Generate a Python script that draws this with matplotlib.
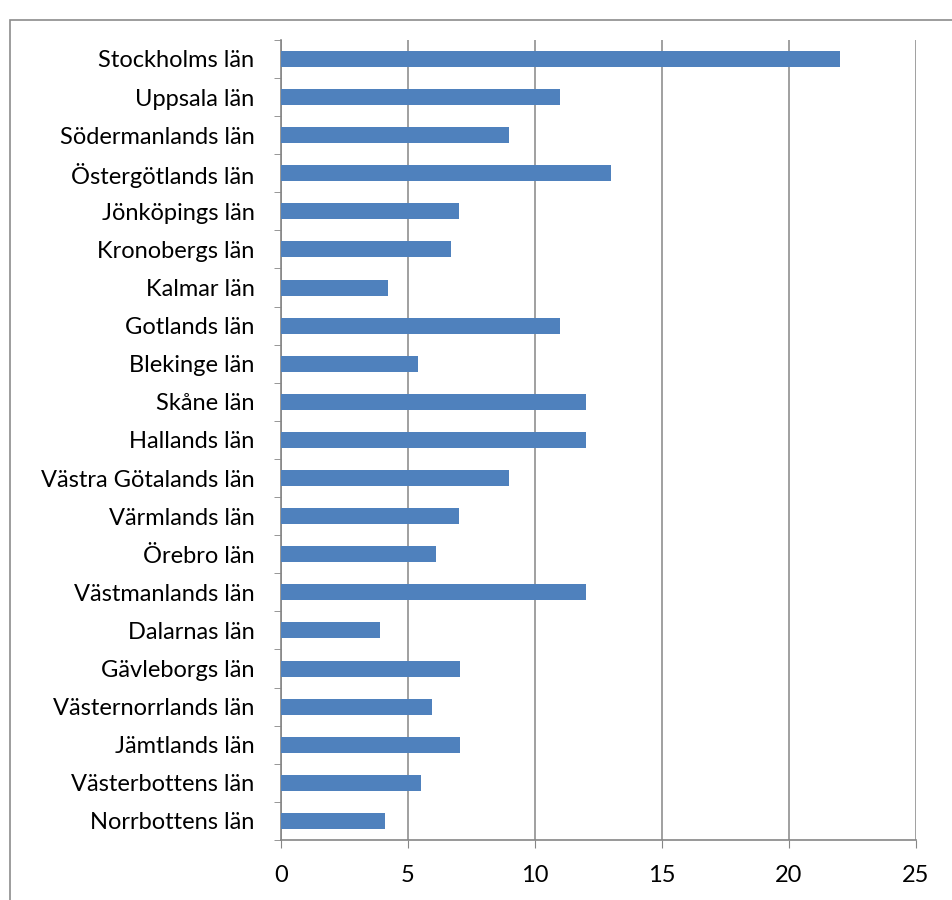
import matplotlib
matplotlib.use("Agg")
import matplotlib.pyplot as plt
from matplotlib.patches import Rectangle

plt.rcParams['font.family'] = ['Lato', 'DejaVu Sans']

lan = ["Stockholms län", "Uppsala län", "Södermanlands län", "Östergötlands län",
       "Jönköpings län", "Kronobergs län", "Kalmar län", "Gotlands län",
       "Blekinge län", "Skåne län", "Hallands län", "Västra Götalands län",
       "Värmlands län", "Örebro län", "Västmanlands län", "Dalarnas län",
       "Gävleborgs län", "Västernorrlands län", "Jämtlands län",
       "Västerbottens län", "Norrbottens län"]
varden = [22, 11, 9, 13, 7, 6.7, 4.2, 11, 5.4, 12, 12, 9, 7, 6.1, 12, 3.9,
          7.05, 5.95, 7.05, 5.5, 4.1]
xticks = [0, 5, 10, 15, 20, 25]

fig = plt.figure(figsize=(9.52, 9.0), dpi=100)
# grå ram runt diagrammet (går ut över höger- och nederkant)
fig.patches.append(Rectangle((10 / 952, -0.1), 1.2, 1 - 20 / 900 + 0.1,
                             transform=fig.transFigure, fill=False,
                             edgecolor='#8c8c8c', linewidth=1.2))
ax = fig.add_axes([0.295, 0.0667, 0.667, 0.889])

pos = list(range(len(lan)))
ax.barh(pos, varden, height=0.42, color='#4F81BD', zorder=3)
ax.set_ylim(len(lan) - 0.5, -0.5)
ax.set_xlim(0, 25)
ax.set_xticks(xticks)
ax.set_yticks(pos)
ax.set_yticklabels(lan)
ax.set_yticks([p - 0.5 for p in pos] + [len(lan) - 0.5], minor=True)
ax.tick_params(axis='y', which='major', length=0, pad=19, labelsize=17)
ax.tick_params(axis='y', which='minor', length=5, color='#868686', direction='out')
ax.tick_params(axis='x', length=6, color='#868686', labelsize=17, pad=12)
ax.grid(axis='x', color='#868686', linewidth=1.1, zorder=0)
for s in ['top', 'right']:
    ax.spines[s].set_visible(False)
for s in ['left', 'bottom']:
    ax.spines[s].set_color('#868686')
    ax.spines[s].set_linewidth(1.2)

fig.savefig("out.png", dpi=100)
